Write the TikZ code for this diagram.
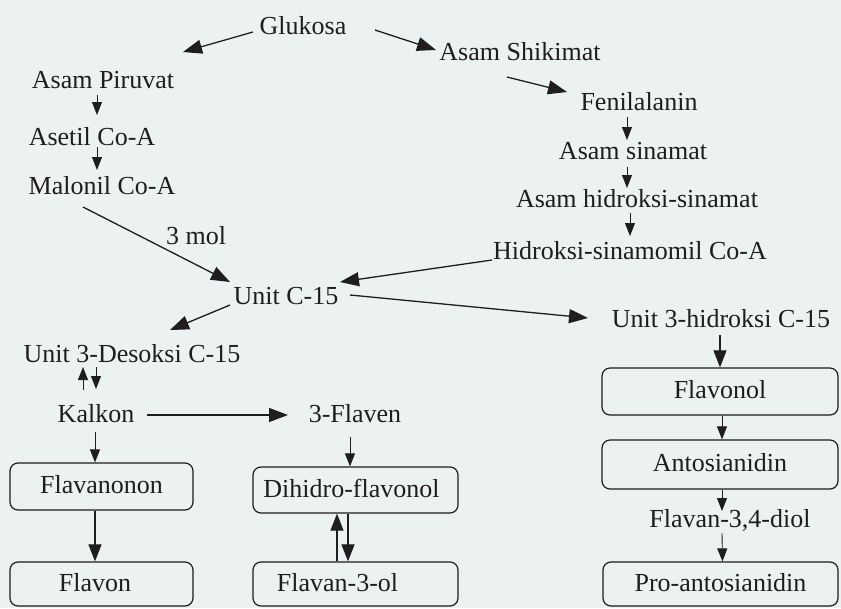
\documentclass[tikz,border=0pt]{standalone}
\usepackage{fontspec}
\setmainfont{Liberation Serif}
\usetikzlibrary{arrows.meta}
\definecolor{bg}{RGB}{236,242,242}
\definecolor{ink}{RGB}{30,30,30}
\begin{document}
\begin{tikzpicture}[x=1pt,y=-1pt,
  lbl/.style={text=ink, font=\fontsize{26}{30}\selectfont, inner sep=0pt, text height=17pt, text depth=3pt},
  box/.style={lbl, draw=ink, line width=1.2pt, rounded corners=8pt, minimum height=46pt},
  big/.style={draw=ink, line width=1.3pt, -{Triangle[length=19pt,width=14pt]}},
  mid/.style={draw=ink, line width=1.1pt, -{Triangle[length=17pt,width=13pt]}},
  sml/.style={draw=ink, line width=0.9pt, -{Triangle[length=13pt,width=10pt]}}]
\fill[bg] (0,0) rectangle (841,608);
\useasboundingbox (0,0) rectangle (841,608);
% text nodes
\node[lbl] (glukosa) at (303,27) {Glukosa};
\node[lbl] (piruvat) at (103,81) {Asam Piruvat};
\node[lbl] (asetil) at (92,138) {Asetil Co-A};
\node[lbl] (malonil) at (102,187) {Malonil Co-A};
\node[lbl] (shikimat) at (520,53) {Asam Shikimat};
\node[lbl] (fenil) at (639,103) {Fenilalanin};
\node[lbl] (sinamat) at (633,152) {Asam sinamat};
\node[lbl] (hidrsin) at (637,200) {Asam hidroksi-sinamat};
\node[lbl] (sinamomil) at (630,252) {Hidroksi-sinamomil Co-A};
\node[lbl] (mol) at (196,237) {3 mol};
\node[lbl] (unitc) at (286,297) {Unit C-15};
\node[lbl] (desoksi) at (132,355) {Unit 3-Desoksi C-15};
\node[lbl] (hidroksi) at (721,320) {Unit 3-hidroksi C-15};
\node[lbl] (kalkon) at (96,415) {Kalkon};
\node[lbl] (flaven) at (355,415) {3-Flaven};
\node[lbl] (flavandiol) at (730,520) {Flavan-3,4-diol};
% boxes
\node[box, minimum width=183pt, minimum height=47pt] (flavanonon) at (101.5,486.5) {Flavanonon};
\node[box, minimum width=183pt, minimum height=44pt] (flavon) at (101.5,584) {\hspace*{-13pt}Flavon};
\node[box, minimum width=205pt] (dihidro) at (355.5,490) {\hspace*{-8pt}Dihidro-flavonol};
\node[box, minimum width=205pt, minimum height=44pt] (flavanol) at (355.5,584) {\hspace*{-36pt}Flavan-3-ol};
\node[box, minimum width=236pt, minimum height=47pt] (flavonol) at (720,391.5) {Flavonol};
\node[box, minimum width=236pt, minimum height=49pt] (antosianidin) at (720,464.5) {Antosianidin};
\node[box, minimum width=235pt, minimum height=44pt] (pro) at (720.5,584) {Pro-antosianidin};
% connectors
\draw[big] ([shift={(-50,5)}]glukosa.center) -- ([shift={(80,-29)}]piruvat.center);
\draw[big] ([shift={(72,3)}]glukosa.center) -- ([shift={(-84,-3)}]shikimat.center);
\draw[big] ([shift={(-13,24)}]shikimat.center) -- ([shift={(-72,-11)}]fenil.center);
\draw[sml] ([shift={(-6,14)}]piruvat.center) -- ([shift={(5,-23)}]asetil.center);
\draw[sml] ([shift={(5,9)}]asetil.center) -- ([shift={(-5,-17)}]malonil.center);
\draw[sml] ([shift={(-12,14)}]fenil.center) -- ([shift={(-6,-12)}]sinamat.center);
\draw[sml] ([shift={(-6,15)}]sinamat.center) -- ([shift={(-10,-12)}]hidrsin.center);
\draw[sml] ([shift={(-7,13)}]hidrsin.center) -- ([shift={(0,-16)}]sinamomil.center);
\draw[big] ([shift={(-19,20)}]malonil.center) -- ([shift={(-56,-15)}]unitc.center);
\draw[big] ([shift={(-138,8)}]sinamomil.center) -- ([shift={(54,-15)}]unitc.center);
\draw[big] ([shift={(64,-2)}]unitc.center) -- ([shift={(-133,-2)}]hidroksi.center);
\draw[big] ([shift={(-56,8)}]unitc.center) -- ([shift={(38,-25)}]desoksi.center);
\draw[sml] ([shift={(-13,-25)}]kalkon.center) -- ([shift={(-49,12)}]desoksi.center);
\draw[sml] ([shift={(-36,12)}]desoksi.center) -- ([shift={(0,-26)}]kalkon.center);
\draw[big] ([shift={(51,0)}]kalkon.center) -- ([shift={(-67,0)}]flaven.center);
\draw[sml] ([shift={(-1,17)}]kalkon.center) -- ([shift={(-6.5,0)}]flavanonon.north);
\draw[mid] ([shift={(-6.5,0)}]flavanonon.south) -- ([shift={(-6.5,0)}]flavon.north);
\draw[sml] ([shift={(-5,22)}]flaven.center) -- ([shift={(-5.5,0)}]dihidro.north);
\draw[mid] ([shift={(-18.5,0)}]flavanol.north) -- ([shift={(-18.5,0)}]dihidro.south);
\draw[mid] ([shift={(-7.5,0)}]dihidro.south) -- ([shift={(-7.5,0)}]flavanol.north);
\draw[mid] ([shift={(-1,15)}]hidroksi.center) -- (flavonol.north);
\draw[sml] ([shift={(2,0)}]flavonol.south) -- ([shift={(2,0)}]antosianidin.north);
\draw[sml] ([shift={(2,0)}]antosianidin.south) -- ([shift={(-8,-9)}]flavandiol.center);
\draw[sml] ([shift={(-8,13)}]flavandiol.center) -- ([shift={(2,0)}]pro.north);
\end{tikzpicture}
\end{document}
